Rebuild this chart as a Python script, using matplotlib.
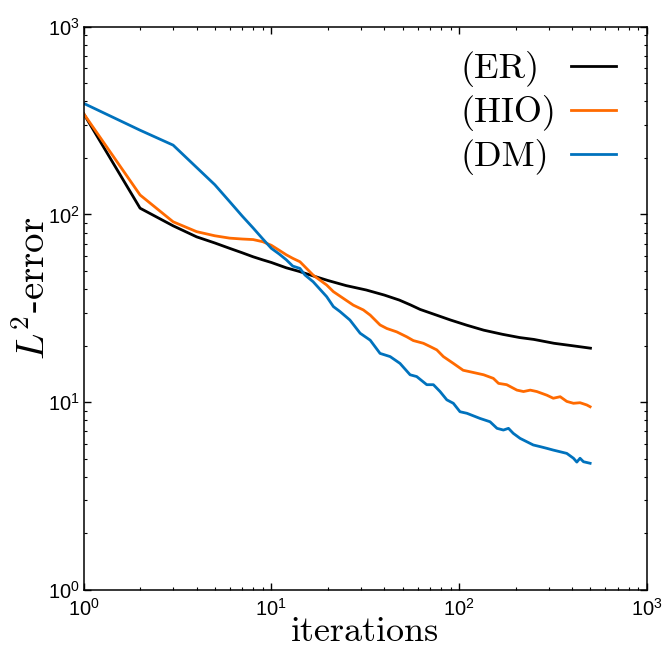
import matplotlib
matplotlib.use("Agg")
import matplotlib.pyplot as plt

plt.rcParams['font.family'] = ['Liberation Sans', 'DejaVu Sans']

# ---- data ----
er_x = [1, 2, 3, 4, 5, 6, 7, 8, 9, 10, 12, 14, 17, 20, 25, 32, 40, 48, 55, 62,
        75, 90, 110, 135, 170, 210, 250, 320, 400, 500]
er_y = [345, 108, 87, 76, 70.5, 66, 62.5, 59.5, 57.3, 55.5, 52, 49.8, 46.8, 44.5,
        41.8, 39.6, 37.2, 35, 33, 31.2, 29.2, 27.4, 25.7, 24.2, 23, 22.1, 21.6,
        20.6, 20, 19.4]

hio_x = [1, 2, 3, 4, 5, 6, 7, 8, 9, 10, 11, 12, 13, 14.2, 16.7, 19.7, 21.4, 24.2,
         27.3, 30.9, 33.6, 37.9, 41.2, 46.5, 52.6, 57, 64.5, 70, 76, 82.4, 93.1,
         105, 119, 135, 152, 162, 179, 203, 220, 239, 259, 293, 317, 345, 374,
         406, 440, 478, 498]
hio_y = [345, 127, 91.4, 81, 77, 74.8, 74, 73.5, 71.6, 68.5, 64.5, 61, 58.4, 56,
         47.5, 42.1, 38.8, 35.7, 32.9, 31.0, 29.1, 25.8, 24.7, 23.7, 22.3, 21.3,
         20.6, 19.8, 19.0, 17.5, 16.1, 14.8, 14.4, 14.0, 13.4, 12.6, 12.4, 11.6,
         11.4, 11.6, 11.4, 10.9, 10.5, 10.7, 10.1, 9.87, 9.94, 9.67, 9.46]

dm_x = [1, 2, 3, 4, 5, 6, 7, 8, 9, 10, 11, 12, 13, 14.2, 15.1, 16.7, 19.7, 21.4,
        23.2, 26.2, 29.7, 33.6, 37.9, 42.9, 48.4, 54.8, 59.4, 67.2, 72.9, 79.1,
        85.9, 93.1, 101, 110, 129, 146, 159, 172, 183, 194, 211, 248, 270, 293,
        317, 374, 406, 423, 440, 459, 498]
dm_y = [391, 281, 234, 178, 144, 117, 98, 84.7, 74.1, 66, 61.6, 57.4, 53.1, 51.6,
        47.6, 43.8, 36.5, 32.3, 30.4, 27.4, 23.3, 21.4, 18.2, 17.5, 16.1, 14.0,
        13.7, 12.4, 12.4, 11.4, 10.3, 9.87, 8.9, 8.73, 8.2, 7.87, 7.26, 7.11,
        7.26, 6.83, 6.42, 5.92, 5.8, 5.68, 5.56, 5.34, 5.03, 4.8, 5.03, 4.82,
        4.73]

labels = ['(ER)', '(HIO)', '(DM)']
colors = ['#000000', '#ff6a00', '#0072bd']
xlabel = 'iterations'
ylabel = r'$L^2$-error'

# ---- figure ----
fig = plt.figure(figsize=(6.64, 6.53), dpi=100)
ax = fig.add_axes([0.1258, 0.0965, 0.8486, 0.8626])

for xs, ys, lab, c in zip([er_x, hio_x, dm_x], [er_y, hio_y, dm_y], labels, colors):
    ax.plot(xs, ys, color=c, lw=2.0, label=lab)

ax.set_xscale('log')
ax.set_yscale('log')
ax.set_xlim(1, 1000)
ax.set_ylim(1, 1000)

ax.tick_params(which='both', direction='in', top=True, right=True, labelsize=14.5)
ax.tick_params(which='major', length=5, width=1)
ax.tick_params(which='minor', length=2.5, width=0.8)
ax.tick_params(axis='x', which='major', pad=6)
ax.tick_params(axis='y', which='major', pad=3)
for s in ax.spines.values():
    s.set_linewidth(1.1)

ax.set_xlabel(xlabel, fontsize=26, fontfamily='cmr10', math_fontfamily='cm')
ax.set_ylabel(ylabel, fontsize=28, fontfamily='cmr10', math_fontfamily='cm')
ax.xaxis.set_label_coords(0.5, -0.047)
ax.yaxis.set_label_coords(-0.054, 0.535)

leg = ax.legend(loc='upper right', bbox_to_anchor=(0.945, 0.956), frameon=False,
                markerfirst=False, handlelength=1.25, handletextpad=0.4,
                labelspacing=0.22, borderpad=0, borderaxespad=0,
                prop={'family': 'cmr10', 'size': 26})

# left-align the legend texts (handles stay aligned on the right)
renderer = fig.canvas.get_renderer()
texts = leg.get_texts()
widths = [t.get_window_extent(renderer).width for t in texts]
wmax = max(widths)
for t, w in zip(texts, widths):
    t.set_x(-(wmax - w))

fig.savefig('out.png', dpi=100)
